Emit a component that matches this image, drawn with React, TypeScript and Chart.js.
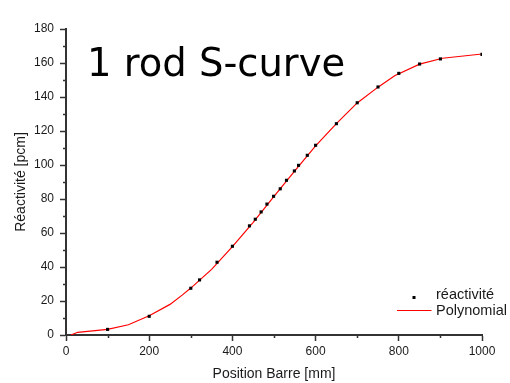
import React, { useEffect, useRef } from 'react';
import { Chart, registerables } from 'chart.js';

Chart.register(...registerables);

// ---- data ----
const titleText = '1 rod S-curve';
const xAxisTitle = 'Position Barre [mm]';
const yAxisTitle = 'Réactivité [pcm]';
const seriesLabels = ['réactivité', 'Polynomial'];

const pointX = [100, 200, 300, 321, 363, 400, 441, 455, 469, 483, 499, 515, 530, 549, 559, 580, 600, 650, 700, 750, 800, 850, 900, 1000];
const pointY = [3.3, 11.0, 27.5, 32.4, 42.8, 52.2, 64.2, 68.1, 72.4, 77.0, 81.6, 86.0, 91.0, 96.5, 99.8, 105.7, 111.6, 124.3, 136.6, 145.9, 153.9, 159.4, 162.4, 165.1];

const polyX = [12, 28, 100, 150, 200, 250, 280, 300, 350, 400, 450, 500, 550, 600, 650, 700, 750, 790, 850, 905, 1000];
const polyY = [0, 1.6, 3.3, 6.0, 11.3, 18.0, 23.6, 27.6, 38.6, 52.0, 66.3, 81.5, 96.6, 111.3, 124.3, 136.5, 145.8, 152.5, 159.3, 162.8, 165.3];

const xTicks = [0, 200, 400, 600, 800, 1000];
const xMinorTicks = [100, 300, 500, 700, 900];
const yTicks = [0, 20, 40, 60, 80, 100, 120, 140, 160, 180];
const yMinorTicks = [10, 30, 50, 70, 90, 110, 130, 150, 170];

const FONT = '"Liberation Sans", Arial, sans-serif';
const AXIS_COLOR = '#333333';
const TEXT_COLOR = '#1a1a1a';

const overlayPlugin = {
  id: 'overlay',
  afterDraw(chart: any) {
    const { ctx, chartArea, scales } = chart;
    const xs = scales.x;
    const ys = scales.y;
    ctx.save();
    // minor ticks
    ctx.strokeStyle = AXIS_COLOR;
    ctx.lineWidth = 1.5;
    ctx.beginPath();
    for (const v of xMinorTicks) {
      const px = Math.round(xs.getPixelForValue(v)) + 0.5;
      ctx.moveTo(px, chartArea.bottom);
      ctx.lineTo(px, chartArea.bottom + 3);
    }
    for (const v of yMinorTicks) {
      const py = Math.round(ys.getPixelForValue(v)) + 0.5;
      ctx.moveTo(chartArea.left, py);
      ctx.lineTo(chartArea.left - 3, py);
    }
    ctx.stroke();

    // title inside plot
    ctx.fillStyle = '#000000';
    ctx.font = '38.5px "DejaVu Sans", sans-serif';
    ctx.textBaseline = 'alphabetic';
    ctx.textAlign = 'left';
    ctx.fillText(titleText, chartArea.left + 21, chartArea.top + 47);

    // legend
    const lx = chartArea.right - 85;
    const ly = chartArea.bottom - 42;
    ctx.font = '14.5px ' + FONT;
    ctx.fillStyle = TEXT_COLOR;
    ctx.fillText(seriesLabels[0], lx + 39, ly + 5.5);
    ctx.fillText(seriesLabels[1], lx + 39, ly + 21.5);
    ctx.fillStyle = '#000000';
    ctx.fillRect(lx + 15.5, ly + 3, 3, 3);
    ctx.strokeStyle = '#ff0000';
    ctx.lineWidth = 1.2;
    ctx.beginPath();
    ctx.moveTo(lx, ly + 17.5);
    ctx.lineTo(lx + 34.5, ly + 17.5);
    ctx.stroke();
    ctx.restore();
  },
};

export default function App() {
  const ref = useRef<HTMLCanvasElement | null>(null);
  useEffect(() => {
    if (!ref.current) return;
    const chart = new Chart(ref.current, {
      type: 'scatter',
      data: {
        datasets: [
          {
            label: seriesLabels[0],
            data: pointX.map((x, i) => ({ x, y: pointY[i] })),
            backgroundColor: '#000000',
            borderColor: '#000000',
            borderWidth: 0,
            pointStyle: 'rect',
            pointRadius: 2.2,
            showLine: false,
          },
          {
            label: seriesLabels[1],
            data: polyX.map((x, i) => ({ x, y: polyY[i] })),
            borderColor: '#ff0000',
            backgroundColor: '#ff0000',
            borderWidth: 1.2,
            pointRadius: 0,
            showLine: true,
            tension: 0,
          },
        ],
      },
      options: {
        animation: false,
        responsive: false,
        devicePixelRatio: 1,
        layout: { padding: { left: 0, right: 28, top: 29, bottom: 0 } },
        plugins: { legend: { display: false }, tooltip: { enabled: false } },
        scales: {
          x: {
            type: 'linear',
            min: 0,
            max: 1000,
            afterBuildTicks: (s: any) => {
              s.ticks = xTicks.map((v) => ({ value: v }));
            },
            afterFit: (s: any) => {
              s.height = 48;
            },
            ticks: {
              color: TEXT_COLOR,
              font: { family: FONT, size: 12 },
              padding: 3,
              maxRotation: 0,
              callback: (v: any) => String(v),
            },
            grid: { drawOnChartArea: false, drawTicks: true, tickLength: 6, color: AXIS_COLOR, tickWidth: 1.5 },
            border: { display: true, color: AXIS_COLOR, width: 2 },
            title: {
              display: true,
              text: xAxisTitle,
              color: TEXT_COLOR,
              font: { family: FONT, size: 14 },
              padding: { top: 0, bottom: 0 },
            },
          },
          y: {
            type: 'linear',
            min: 0,
            max: 180,
            afterBuildTicks: (s: any) => {
              s.ticks = yTicks.map((v) => ({ value: v }));
            },
            afterFit: (s: any) => {
              s.width = 66;
            },
            ticks: { color: TEXT_COLOR, font: { family: FONT, size: 12 }, padding: 6, callback: (v: any) => String(v) },
            grid: { drawOnChartArea: false, drawTicks: true, tickLength: 6, color: AXIS_COLOR, tickWidth: 1.5 },
            border: { display: true, color: AXIS_COLOR, width: 2 },
            title: {
              display: true,
              text: yAxisTitle,
              color: TEXT_COLOR,
              font: { family: FONT, size: 14 },
              padding: { top: 13, bottom: 0 },
            },
          },
        },
      },
      plugins: [overlayPlugin],
    } as any);
    return () => chart.destroy();
  }, []);
  return (
    <div style={{ position: 'absolute', left: 0, top: 0, width: 510, height: 383, background: '#ffffff' }}>
      <canvas ref={ref} width={510} height={383} style={{ display: 'block' }} />
    </div>
  );
}
